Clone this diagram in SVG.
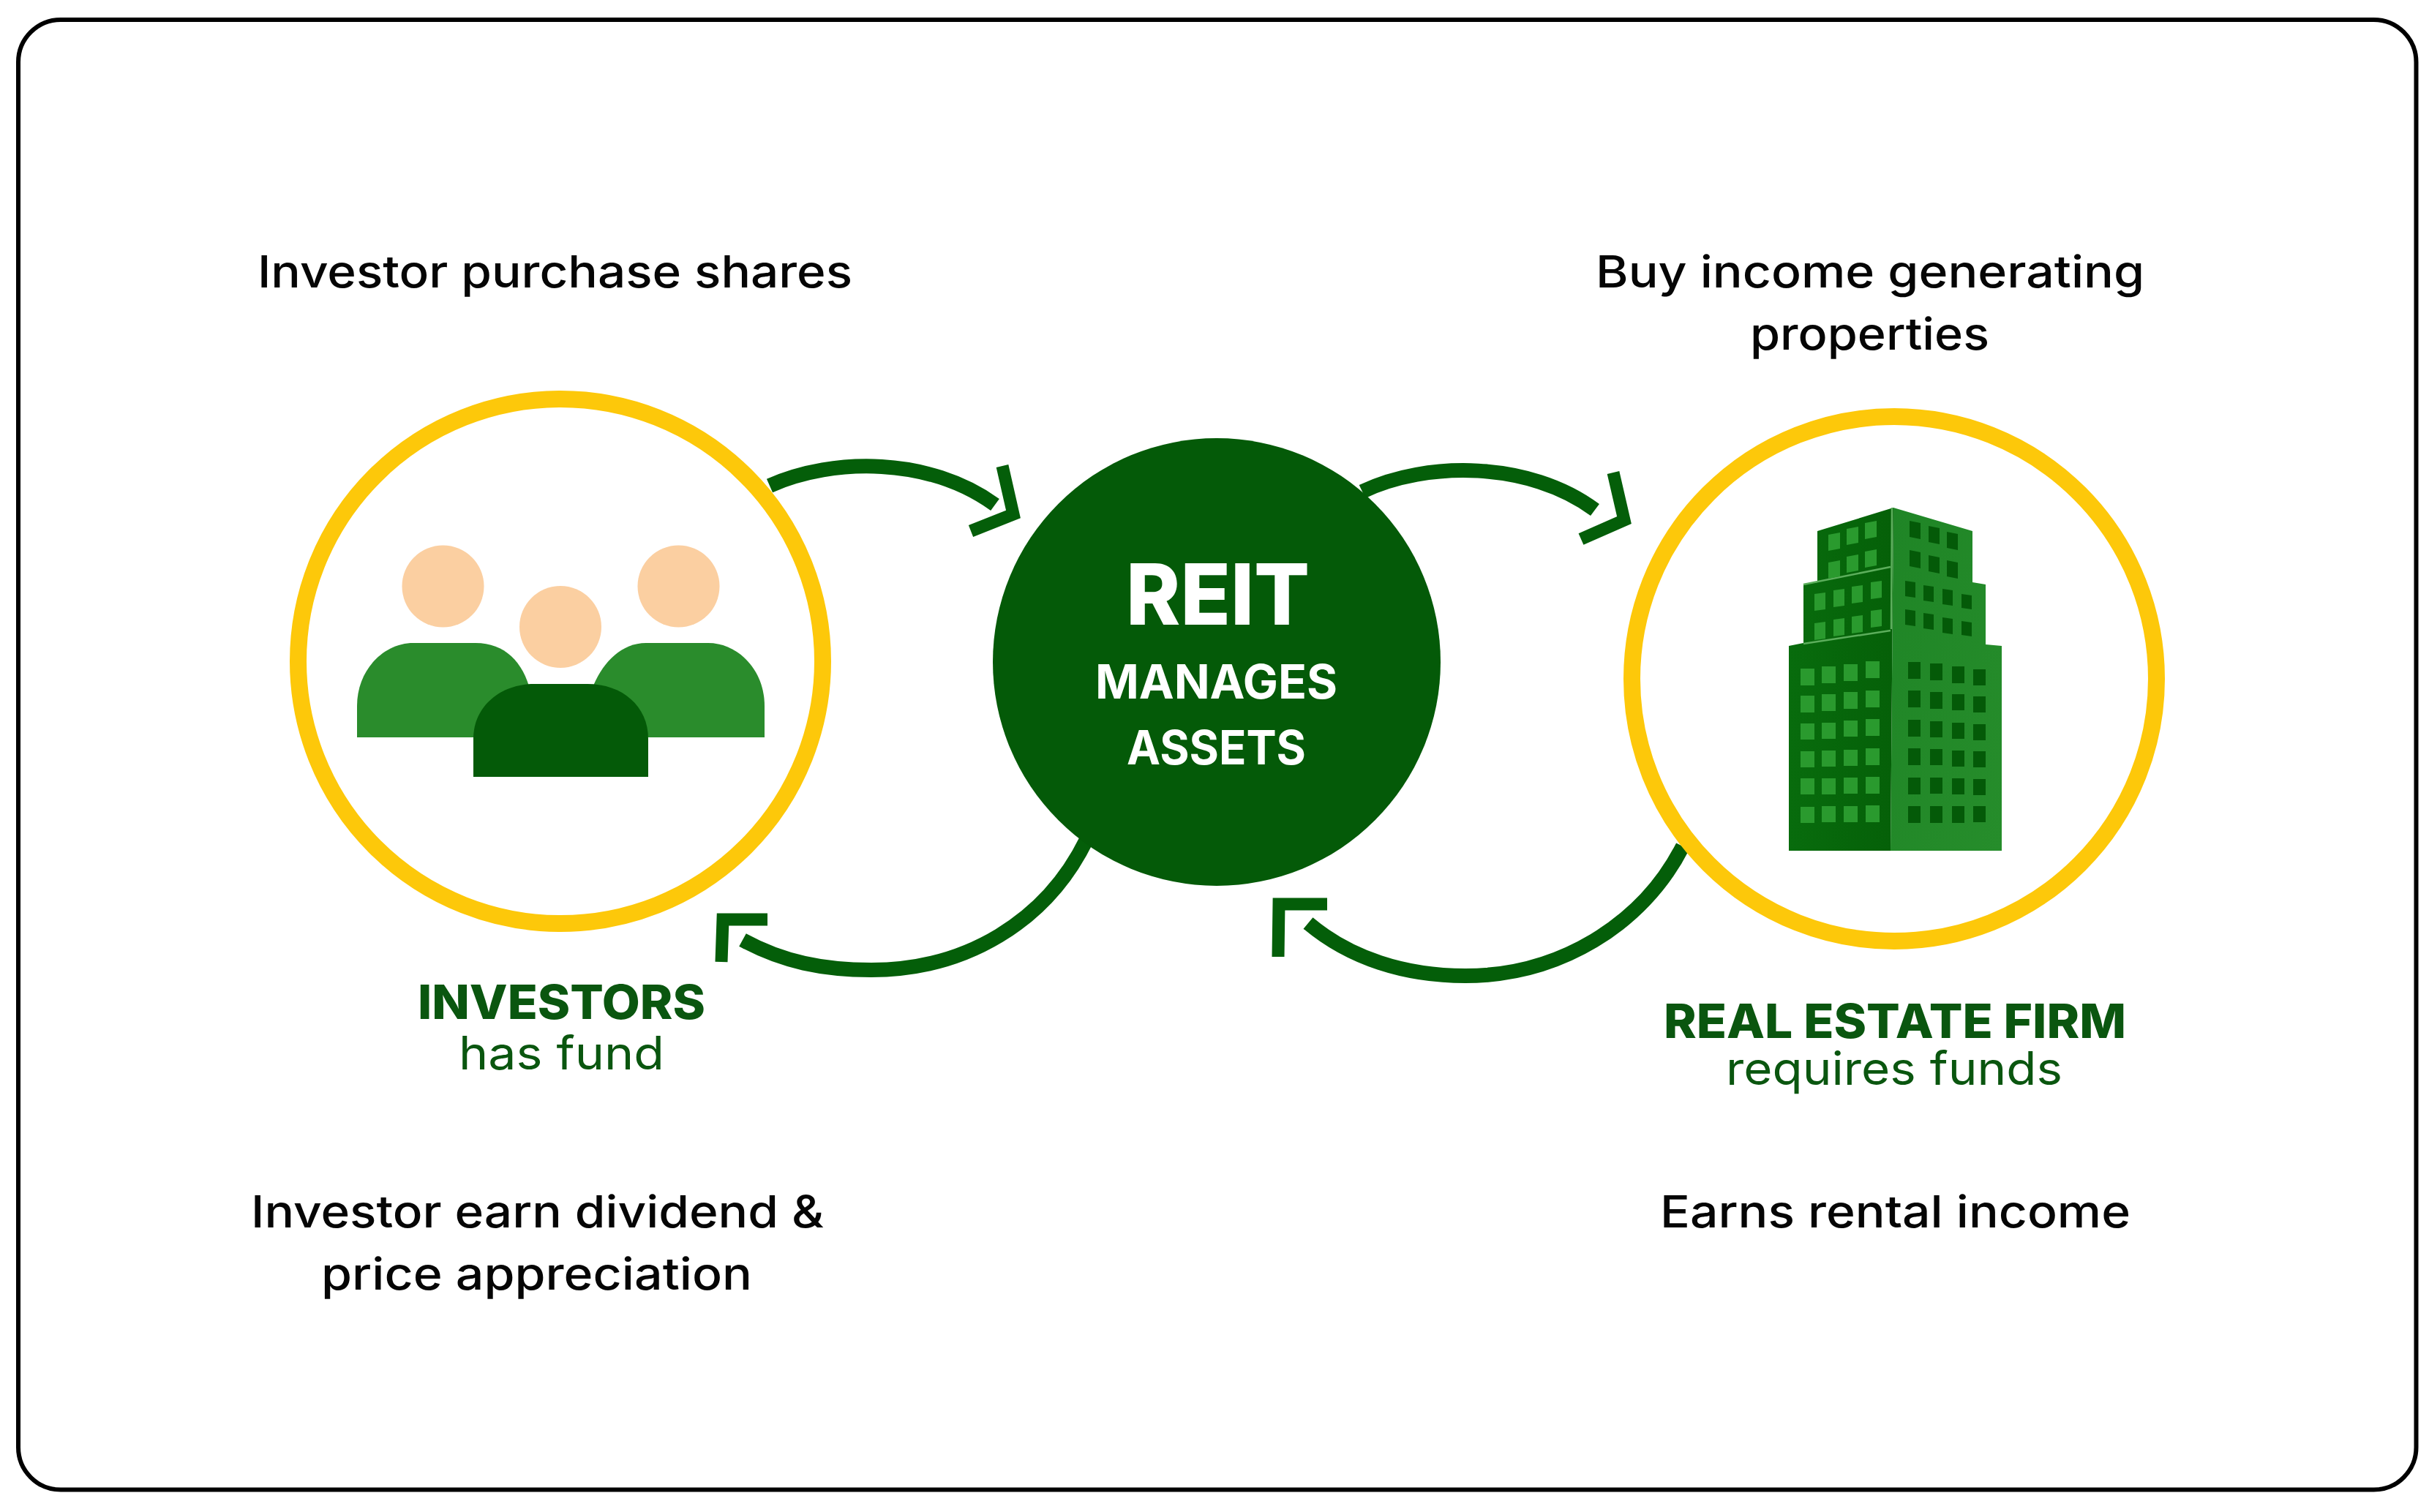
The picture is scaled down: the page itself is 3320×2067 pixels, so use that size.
<svg xmlns="http://www.w3.org/2000/svg" width="3320" height="2067" viewBox="0 0 3320 2067">
<style>
.t{font-family:"Inter","Liberation Sans",sans-serif;font-size:61px;font-weight:500;fill:#050505}
.g{fill:#0a560f}
.b{font-weight:800;font-size:65px}
.s{font-weight:400;font-size:63px}
.w{fill:#fff;font-weight:800}
.ring{fill:#fff;stroke:#fdc80a;stroke-width:23}
.head{fill:#fbcfa1}
.arc{fill:none;stroke:#045e09;stroke-width:20}
.tip{fill:none;stroke:#045e09;stroke-width:17;stroke-miterlimit:6}
.wl{fill:#2a9a2e}
.wr{fill:#045a08}
</style>
<defs>
<linearGradient id="lf" x1="0" y1="0" x2="1" y2="0"><stop offset="0" stop-color="#086c0d"/><stop offset="1" stop-color="#056008"/></linearGradient>
<linearGradient id="rf" x1="0" y1="0" x2="1" y2="1"><stop offset="0" stop-color="#1f8526"/><stop offset="1" stop-color="#268d2b"/></linearGradient>
</defs>
<rect x="0" y="0" width="3320" height="2067" fill="#fff"/>
<rect id="frame" x="25" y="27" width="3277.5" height="2009.5" rx="58" fill="#fff" stroke="#000" stroke-width="6"/>
<g id="connectors">
<path class="arc" d="M1052,664 C1140,625 1270,625 1360,690"/>
<polyline class="tip" points="1370,637 1385,703 1327,726"/>
<path class="arc" d="M1862,672 C1950,630 2090,630 2180,697"/>
<polyline class="tip" points="2205,646 2220,711 2161,737"/>
<path class="arc" d="M1485,1148 C1430,1260 1320,1326 1191,1326 C1125,1326 1070,1315 1015,1285"/>
<polyline class="tip" points="1049,1257 988,1257 986,1315"/>
<path class="arc" d="M2300,1157 C2245,1265 2130,1334 2003,1334 C1920,1334 1845,1310 1788,1262"/>
<polyline class="tip" points="1814,1236 1748,1236 1747,1308"/>
</g>
<g id="investors">
<circle class="ring" cx="766" cy="904" r="358.5"/>
<circle class="head" cx="605.5" cy="801.5" r="56"/>
<circle class="head" cx="927.5" cy="801.5" r="56"/>
<circle class="head" cx="766" cy="857" r="56"/>
<path fill="#2a8c2c" d="M488,1008 V965 C488,915 525,879 565,879 H650 C690,879 715,905 725,945 V1008 Z"/>
<path fill="#2a8c2c" d="M1045,1008 V965 C1045,915 1008,879 968,879 H883 C850,879 825,905 812,935 V1008 Z"/>
<path fill="#045a08" d="M647,1062 V1010 C647,965 685,935 730,935 H803 C850,935 886,965 886,1010 V1062 Z"/>
<text class="t g b" x="571" y="1393" textLength="393" lengthAdjust="spacingAndGlyphs">INVESTORS</text>
<text class="t g s" x="627" y="1462" textLength="281" lengthAdjust="spacingAndGlyphs">has fund</text>
</g>
<g id="reit">
<circle cx="1663" cy="905" r="306" fill="#045a08"/>
<text class="t w" style="font-size:116px" x="1539" y="854" textLength="251" lengthAdjust="spacingAndGlyphs">REIT</text>
<text class="t w" style="font-size:64px;font-weight:700" x="1497" y="955" textLength="331" lengthAdjust="spacingAndGlyphs">MANAGES</text>
<text class="t w" style="font-size:64px;font-weight:700" x="1540" y="1045" textLength="245" lengthAdjust="spacingAndGlyphs">ASSETS</text>
</g>
<g id="real-estate-firm">
<circle class="ring" cx="2589" cy="928" r="358.5"/>
<polygon fill="url(#rf)" points="2588,694 2696,726 2696,796 2714,799 2714,881 2736,883 2736,1163 2584,1163"/>
<polygon fill="url(#lf)" points="2484,726 2588,694 2584,1163 2445,1163 2445,883 2465,879 2465,799 2484,796"/>
<path fill="none" stroke="#5cae5c" stroke-width="2.5" d="M2586,694 L2585,860 M2465,799 L2584,775 M2465,880 L2584,862"/>
<g class="wl">
<polygon points="2499,731 2515,728 2515,750 2499,753"/><polygon points="2524,723 2540,720 2540,742 2524,745"/><polygon points="2549,715 2565,712 2565,734 2549,737"/>
<polygon points="2499,769 2515,766 2515,788 2499,791"/><polygon points="2524,761 2540,758 2540,780 2524,783"/><polygon points="2549,754 2565,751 2565,773 2549,776"/>
<polygon points="2480,812 2495,810 2495,833 2480,835"/><polygon points="2506,807 2521,805 2521,828 2506,830"/><polygon points="2531,802 2546,800 2546,823 2531,825"/><polygon points="2557,796 2572,794 2572,817 2557,819"/>
<polygon points="2480,852 2495,850 2495,873 2480,875"/><polygon points="2506,847 2521,845 2521,868 2506,870"/><polygon points="2531,843 2546,841 2546,864 2531,866"/><polygon points="2557,835 2572,833 2572,856 2557,858"/>
<rect x="2461" y="914" width="19" height="23"/><rect x="2490" y="911" width="19" height="23"/><rect x="2520" y="908" width="19" height="23"/><rect x="2550" y="904" width="19" height="23"/>
<rect x="2461" y="951" width="19" height="23"/><rect x="2490" y="949" width="19" height="23"/><rect x="2520" y="946" width="19" height="23"/><rect x="2550" y="944" width="19" height="23"/>
<rect x="2461" y="989" width="19" height="22"/><rect x="2490" y="988" width="19" height="22"/><rect x="2520" y="985" width="19" height="22"/><rect x="2550" y="983" width="19" height="23"/>
<rect x="2461" y="1027" width="19" height="22"/><rect x="2490" y="1026" width="19" height="22"/><rect x="2520" y="1025" width="19" height="22"/><rect x="2550" y="1023" width="19" height="23"/>
<rect x="2461" y="1064" width="19" height="22"/><rect x="2490" y="1064" width="19" height="22"/><rect x="2520" y="1063" width="19" height="22"/><rect x="2550" y="1062" width="19" height="23"/>
<rect x="2461" y="1103" width="19" height="22"/><rect x="2490" y="1102" width="19" height="22"/><rect x="2520" y="1102" width="19" height="22"/><rect x="2550" y="1101" width="19" height="23"/>
</g>
<g class="wr">
<polygon points="2610,712 2625,715 2625,737 2610,734"/><polygon points="2636,719 2651,722 2651,744 2636,741"/><polygon points="2661,727 2676,730 2676,752 2661,749"/>
<polygon points="2610,752 2625,755 2625,777 2610,774"/><polygon points="2636,759 2651,762 2651,784 2636,781"/><polygon points="2661,766 2676,769 2676,791 2661,788"/>
<polygon points="2604,794 2618,796 2618,817 2604,815"/><polygon points="2629,800 2643,802 2643,823 2629,821"/><polygon points="2655,805 2669,807 2669,828 2655,826"/><polygon points="2681,812 2695,814 2695,833 2681,831"/>
<polygon points="2604,833 2618,835 2618,856 2604,854"/><polygon points="2629,838 2643,840 2643,861 2629,859"/><polygon points="2655,844 2669,846 2669,867 2655,865"/><polygon points="2681,849 2695,851 2695,870 2681,868"/>
<rect x="2608" y="905" width="17" height="23"/><rect x="2638" y="907" width="17" height="23"/><rect x="2668" y="911" width="17" height="23"/><rect x="2697" y="915" width="17" height="22"/>
<rect x="2608" y="944" width="17" height="23"/><rect x="2638" y="946" width="17" height="23"/><rect x="2668" y="949" width="17" height="22"/><rect x="2697" y="952" width="17" height="22"/>
<rect x="2608" y="984" width="17" height="23"/><rect x="2638" y="986" width="17" height="22"/><rect x="2668" y="988" width="17" height="22"/><rect x="2697" y="990" width="17" height="22"/>
<rect x="2608" y="1023" width="17" height="23"/><rect x="2638" y="1024" width="17" height="22"/><rect x="2668" y="1026" width="17" height="22"/><rect x="2697" y="1027" width="17" height="22"/>
<rect x="2608" y="1063" width="17" height="23"/><rect x="2638" y="1063" width="17" height="22"/><rect x="2668" y="1064" width="17" height="22"/><rect x="2697" y="1065" width="17" height="22"/>
<rect x="2608" y="1102" width="17" height="23"/><rect x="2638" y="1102" width="17" height="23"/><rect x="2668" y="1102" width="17" height="23"/><rect x="2697" y="1102" width="17" height="22"/>
</g>
<text class="t g b" x="2274" y="1419" textLength="632" lengthAdjust="spacingAndGlyphs">REAL ESTATE FIRM</text>
<text class="t g s" x="2359" y="1483" textLength="460" lengthAdjust="spacingAndGlyphs">requires funds</text>
</g>
<g id="labels">
<text class="t" x="352" y="393" textLength="813" lengthAdjust="spacingAndGlyphs">Investor purchase shares</text>
<text class="t" x="2181" y="393" textLength="750" lengthAdjust="spacingAndGlyphs">Buy income generating</text>
<text class="t" x="2392" y="478" textLength="327" lengthAdjust="spacingAndGlyphs">properties</text>
<text class="t" x="343" y="1678" textLength="783" lengthAdjust="spacingAndGlyphs">Investor earn dividend &amp;</text>
<text class="t" x="439" y="1763" textLength="589" lengthAdjust="spacingAndGlyphs">price appreciation</text>
<text class="t" x="2269" y="1678" textLength="643" lengthAdjust="spacingAndGlyphs">Earns rental income</text>
</g>
</svg>
